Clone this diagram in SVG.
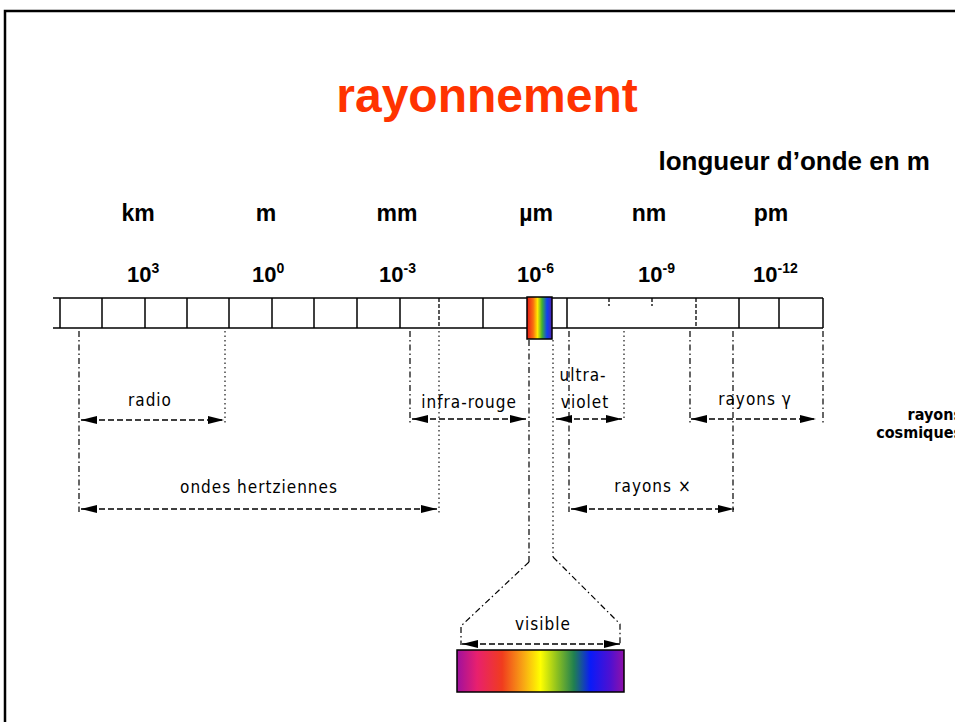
<svg xmlns="http://www.w3.org/2000/svg" width="955" height="722" viewBox="0 0 955 722">
<defs>
<linearGradient id="gSmall" x1="0" y1="0" x2="1" y2="0">
<stop offset="0" stop-color="#E81818"/>
<stop offset="0.25" stop-color="#F87010"/>
<stop offset="0.42" stop-color="#FFE800"/>
<stop offset="0.6" stop-color="#40B030"/>
<stop offset="0.8" stop-color="#1040F0"/>
<stop offset="1" stop-color="#5020B0"/>
</linearGradient>
<linearGradient id="gVis" x1="0" y1="0" x2="1" y2="0">
<stop offset="0" stop-color="#A0109E"/>
<stop offset="0.12" stop-color="#E8206E"/>
<stop offset="0.27" stop-color="#F03C1E"/>
<stop offset="0.4" stop-color="#F8A814"/>
<stop offset="0.5" stop-color="#FFFF00"/>
<stop offset="0.6" stop-color="#8CC020"/>
<stop offset="0.7" stop-color="#208050"/>
<stop offset="0.8" stop-color="#0A1AF8"/>
<stop offset="0.92" stop-color="#5010D0"/>
<stop offset="1" stop-color="#9010A8"/>
</linearGradient>
<marker id="ah" markerWidth="16" markerHeight="8" refX="16" refY="4" orient="auto-start-reverse" markerUnits="userSpaceOnUse">
<path d="M0,0 L16,4 L0,8 Z" fill="#000"/>
</marker>
</defs>
<style>
.frame{fill:none;stroke:#000;stroke-width:2.5}
.title{font-family:"Liberation Sans",Arial,sans-serif;font-weight:bold;font-size:48px;fill:#FF3300}
.hdr{font-family:"Liberation Sans",Arial,sans-serif;font-weight:bold;fill:#000}
.unit{font-size:23px}
.pow{font-size:22px}
.bar{fill:none;stroke:#000;stroke-width:1.5}
.cell{stroke:#000;stroke-width:1.5}
.celld{stroke:#000;stroke-width:1.3;stroke-dasharray:4 2}
.guide{fill:none;stroke:#000;stroke-width:1.2;stroke-dasharray:6 3 1.5 3}
.dot{fill:none;stroke:#000;stroke-width:1.1;stroke-dasharray:1.5 3}
.dim{fill:none;stroke:#000;stroke-width:1.4;stroke-dasharray:6 3;marker-start:url(#ah);marker-end:url(#ah)}
.lbl{font-family:"DejaVu Sans Condensed","DejaVu Sans",sans-serif;font-size:17px;letter-spacing:1px;fill:#000}
.cos{font-family:"DejaVu Sans Condensed","DejaVu Sans",sans-serif;font-weight:bold;font-size:16px;fill:#000}
</style>
<rect class="frame" x="5" y="11" width="960" height="720"/>
<text class="title" x="487" y="112" text-anchor="middle">rayonnement</text>
<text class="hdr" x="930" y="170" text-anchor="end" font-size="26">longueur d’onde en m</text>
<g id="units" class="hdr unit" text-anchor="middle">
<text x="138" y="221">km</text>
<text x="266" y="221">m</text>
<text x="397" y="221">mm</text>
<text x="536" y="221">µm</text>
<text x="649" y="221">nm</text>
<text x="771" y="221">pm</text>
</g>
<g id="powers" class="hdr pow">
<text x="127" y="282">10<tspan font-size="14" dy="-9">3</tspan></text>
<text x="252" y="282">10<tspan font-size="14" dy="-9">0</tspan></text>
<text x="379" y="282">10<tspan font-size="14" dy="-9">-3</tspan></text>
<text x="517" y="282">10<tspan font-size="14" dy="-9">-6</tspan></text>
<text x="638" y="282">10<tspan font-size="14" dy="-9">-9</tspan></text>
<text x="753" y="282">10<tspan font-size="14" dy="-9">-12</tspan></text>
</g>
<g id="scale-bar">
<line class="bar" x1="53" y1="298" x2="823" y2="298"/>
<line class="bar" x1="53" y1="328" x2="823" y2="328"/>
<g class="cell">
<line x1="60" y1="298" x2="60" y2="328"/>
<line x1="102" y1="298" x2="102" y2="328"/>
<line x1="145" y1="298" x2="145" y2="328"/>
<line x1="187" y1="298" x2="187" y2="328"/>
<line x1="229" y1="298" x2="229" y2="328"/>
<line x1="272" y1="298" x2="272" y2="328"/>
<line x1="314" y1="298" x2="314" y2="328"/>
<line x1="357" y1="298" x2="357" y2="328"/>
<line x1="400" y1="298" x2="400" y2="328"/>
<line x1="483" y1="298" x2="483" y2="328"/>
<line x1="567" y1="298" x2="567" y2="328"/>
<line x1="739" y1="298" x2="739" y2="328"/>
<line x1="779" y1="298" x2="779" y2="328"/>
<line x1="823" y1="298" x2="823" y2="328"/>
</g>
<g class="celld">
<line x1="439" y1="298" x2="439" y2="328"/>
<line x1="696" y1="298" x2="696" y2="328"/>
<line x1="609" y1="298" x2="609" y2="306"/>
<line x1="652" y1="298" x2="652" y2="306"/>
</g>
<rect x="527" y="297" width="25" height="42" fill="url(#gSmall)" stroke="#000" stroke-width="1.5"/>
</g>
<g id="connectors">
<line class="guide" x1="79" y1="331" x2="79" y2="512"/>
<line class="dot" x1="225" y1="331" x2="225" y2="425"/>
<line class="guide" x1="410" y1="331" x2="410" y2="425"/>
<line class="dot" x1="439" y1="331" x2="439" y2="515"/>
<line class="guide" x1="529" y1="340" x2="529" y2="562"/>
<line class="dot" x1="553" y1="340" x2="553" y2="557"/>
<line class="guide" x1="569" y1="331" x2="569" y2="512"/>
<line class="dot" x1="624" y1="331" x2="624" y2="418"/>
<line class="guide" x1="690" y1="331" x2="690" y2="424"/>
<line class="guide" x1="733" y1="331" x2="733" y2="512"/>
<line class="guide" x1="823" y1="331" x2="823" y2="424"/>
<path class="guide" d="M529,562 L461,626 L461,645"/>
<path class="guide" d="M553,557 L620,624 L620,645"/>
<line class="dim" x1="81" y1="420" x2="224" y2="420"/>
<line class="dim" x1="412" y1="419" x2="526" y2="419"/>
<line class="dim" x1="556" y1="419" x2="622" y2="419"/>
<line class="dim" x1="691" y1="419" x2="816" y2="419"/>
<line class="dim" x1="81" y1="509" x2="437" y2="509"/>
<line class="dim" x1="571" y1="509" x2="734" y2="509"/>
<line class="dim" x1="462" y1="644" x2="620" y2="644"/>
</g>
<g id="radio"><text class="lbl" x="150" y="406" text-anchor="middle">radio</text></g>
<g id="infra-rouge"><text class="lbl" x="469" y="408" text-anchor="middle">infra-rouge</text></g>
<g id="ultra-violet"><text class="lbl" x="583" y="381" text-anchor="middle">ultra-</text><text class="lbl" x="585" y="408" text-anchor="middle">violet</text></g>
<g id="rayons-gamma"><text class="lbl" x="755" y="405" text-anchor="middle">rayons γ</text></g>
<g id="ondes-hertziennes"><text class="lbl" x="259" y="493" text-anchor="middle">ondes hertziennes</text></g>
<g id="rayons-x"><text class="lbl" x="653" y="492" text-anchor="middle">rayons  ×</text></g>
<g id="rayons-cosmiques"><text class="cos" x="962" y="420" text-anchor="end">rayons</text><text class="cos" x="962" y="438" text-anchor="end">cosmiques</text></g>
<g id="visible"><text class="lbl" x="543" y="630" text-anchor="middle">visible</text>
<rect x="457" y="650" width="167" height="42" fill="url(#gVis)" stroke="#000" stroke-width="1.5"/></g>
</svg>
